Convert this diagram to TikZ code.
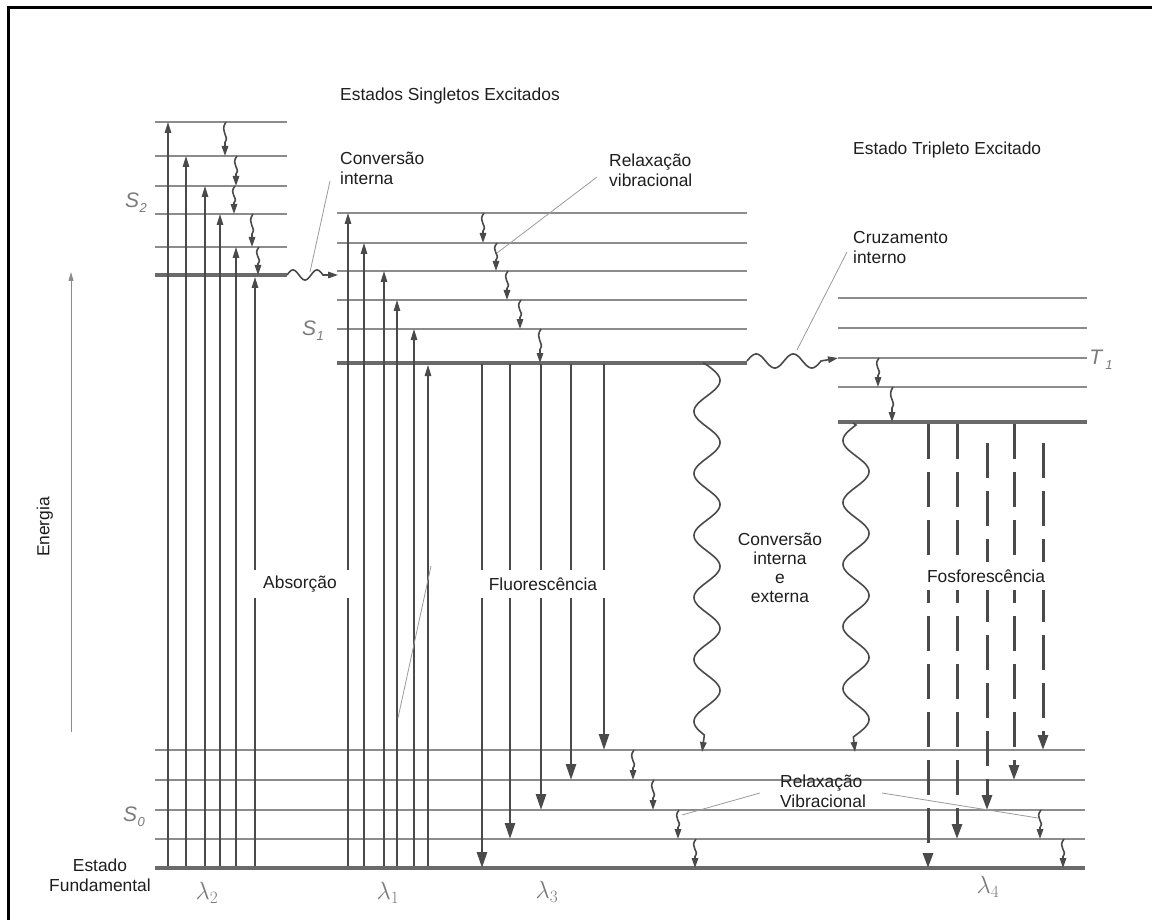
\documentclass[tikz,border=0pt]{standalone}
\usepackage{fontspec}
\setmainfont{Liberation Sans}
\usetikzlibrary{arrows.meta}
\definecolor{lvl}{HTML}{8C8C8C}
\definecolor{thk}{HTML}{6A6A6A}
\definecolor{arr}{HTML}{4A4A4A}
\definecolor{txt}{HTML}{1E1E1E}
\definecolor{lab}{HTML}{7A7A7A}
\definecolor{lead}{HTML}{9A9A9A}
\begin{document}
\begin{tikzpicture}[x=1pt,y=-1pt,
  level/.style={draw=lvl, line width=1.1pt},
  ground/.style={draw=thk, line width=4.5pt},
  absarrow/.style={draw=arr, line width=1.3pt, -{Triangle[length=11pt,width=6.5pt]}},
  fluor/.style={draw=arr, line width=2.6pt, -{Triangle[length=16pt,width=10pt]}},
  phos/.style={draw=arr, line width=3pt, dash pattern=on 35pt off 13pt, -{Triangle[length=15pt,width=10pt]}},
  vib/.style={draw=arr, line width=1.6pt, -{Triangle[length=10pt,width=6.5pt]}},
  wave/.style={draw=arr, line width=1.6pt, -{Triangle[length=10pt,width=6.5pt]}},
  leader/.style={draw=lead, line width=0.8pt},
  lbl/.style={text=txt, font=\fontsize{17.4}{20}\selectfont, inner sep=0pt},
  sym/.style={text=lab, font=\fontsize{21}{24}\selectfont, inner sep=0pt},
  lam/.style={text=lab, font=\fontsize{24}{26}\selectfont, inner sep=0pt},
  wbox/.style={fill=white, minimum height=28pt}
]
\useasboundingbox (0,0) rectangle (1152,920);
% frame
\draw[line width=3pt,black] (1152,8) -- (8,8) -- (8,920);

% ---------- levels ----------
% S2
\foreach \y in {122,156,186,214,247} \draw[level] (155,\y) -- (287,\y);
\draw[ground] (155,275) -- (287,275);
% S1
\foreach \y in {213,243,271,300,329} \draw[level] (337,\y) -- (747,\y);
\draw[ground] (337,363) -- (747,363);
% T1
\foreach \y in {298,328,358,387} \draw[level] (838,\y) -- (1087,\y);
\draw[ground] (838,422) -- (1087,422);
% S0
\foreach \y in {750,780,810,839} \draw[level] (155,\y) -- (1085,\y);
\draw[ground] (155,868) -- (1085,868);

% ---------- absorption ----------
\foreach \x/\y in {168/122,186/156,205/186,220/214,236/247,255/277}
  \draw[absarrow] (\x,866) -- (\x,\y);
\foreach \x/\y in {348/213,364/243,384/271,397/300,414/329,428/365}
  \draw[absarrow] (\x,866) -- (\x,\y);

% ---------- vibrational relaxation (small squiggles) ----------
\foreach \x/\a/\b in {225/122/156,236/156/186,234/186/214,252/214/247,258/247/275,
                      483/213/243,496/243/271,507/271/300,520/300/329,540/329/363,
                      878/358/387,892/387/422,
                      633/750/780,653/780/810,678/810/839,695/839/868,
                      1040/810/839,1063/839/868}
  \draw[vib] (\x+1,\a) .. controls (\x-6,\a+0.3*\b-0.3*\a) and (\x+5,\a+0.4*\b-0.4*\a) .. (\x,\a+0.6*\b-0.6*\a) -- (\x,\b);

% ---------- fluorescence ----------
\foreach \x/\y in {482/868,510/839,541/810,571/780,604/750}
  \draw[fluor] (\x,364) -- (\x,\y);

% ---------- phosphorescence ----------
\draw[phos] (928,424) -- (928,868);
\draw[phos] (957,424) -- (957,839);
\draw[phos] (987,443) -- (987,810);
\draw[phos] (1014,424) -- (1014,780);
\draw[phos] (1043,443) -- (1043,750);

% ---------- internal conversion S2 -> S1 ----------
\draw[wave] (287,275) -- plot[domain=0:36,samples=60,smooth] ({287+\x},{275-5*sin(\x/24*360)}) -- (338,275);
% ---------- intersystem crossing S1 -> T1 ----------
\draw[wave] (747,361) -- plot[domain=0:74,samples=100,smooth] ({747+\x},{361-7*sin(\x/37*360)}) -- (838,358);
% ---------- long waves (internal/external conversion) ----------
\draw[wave] (703,363) -- plot[domain=0:370,samples=300,smooth] ({707+13*sin(\x/62*360)},{365+\x}) -- (702,752);
\draw[wave] (853,423) -- plot[domain=0:312,samples=260,smooth] ({856-13*sin(\x/62*360)},{425+\x}) -- (855,752);

% ---------- energy axis ----------
\coordinate (e0) at (71,732);
\coordinate (e1) at (71,272);
\draw[draw=lvl, line width=1pt, -{Triangle[length=9pt,width=5pt]}] (e0) -- (e1);
\node[lbl, rotate=90] (energia) at (45,527) {Energia};

% ---------- leaders ----------
\coordinate (l1a) at (330,181); \coordinate (l1b) at (310,272);
\coordinate (l2a) at (597,177); \coordinate (l2b) at (497,253);
\coordinate (l3a) at (847,252); \coordinate (l3b) at (797,350);
\coordinate (l4a) at (760,793); \coordinate (l4b) at (682,815);
\coordinate (l5a) at (882,793); \coordinate (l5b) at (1038,818);
\coordinate (l6a) at (398,718); \coordinate (l6b) at (431,566);
\foreach \a/\b in {l1a/l1b,l2a/l2b,l3a/l3b,l4a/l4b,l5a/l5b,l6a/l6b}
  \draw[leader] (\a) -- (\b);

% ---------- labels ----------
\node[lbl, anchor=west] (singl) at (340,96) {Estados Singletos Excitados};
\node[lbl, anchor=west] (trip) at (853,150) {Estado Tripleto Excitado};
\node[lbl, anchor=west, align=left] (convint) at (340,168) {Conversão\\interna};
\node[lbl, anchor=west, align=left] (relax) at (609,170) {Relaxação\\vibracional};
\node[lbl, anchor=west, align=left] (cruz) at (853,248) {Cruzamento\\interno};
\node[lbl, align=center, font=\fontsize{17.4}{19}\selectfont] (convie) at (780,568) {Conversão\\interna\\e\\externa};
\node[lbl, anchor=west, align=left] (relax2) at (780,791) {Relaxação\\Vibracional};
\node[lbl, align=center] (fund) at (100,875) {Estado\\Fundamental};
\node[lbl, wbox, minimum width=100pt] (absor) at (300,584) {Absorção};
\node[lbl, wbox, minimum width=132pt] (fluo) at (543,584) {Fluorescência};
\node[lbl, wbox, minimum width=130pt] (fosfo) at (986,576) {Fosforescência};

\node[sym] (s2) at (136,203) {\itshape S\kern0.5pt\raisebox{-0.45ex}{\fontsize{13}{15}\selectfont 2}};
\node[sym] (s1) at (313,331) {\itshape S\kern0.5pt\raisebox{-0.45ex}{\fontsize{13}{15}\selectfont 1}};
\node[sym] (s0) at (134,817) {\itshape S\kern0.5pt\raisebox{-0.45ex}{\fontsize{13}{15}\selectfont 0}};
\node[sym] (t1) at (1101,360) {\itshape T\kern3pt\raisebox{-0.45ex}{\fontsize{13}{15}\selectfont 1}};

\node[lam] (lam2) at (207,893) {$\lambda_2$};
\node[lam] (lam1) at (388,893) {$\lambda_1$};
\node[lam] (lam3) at (547,892) {$\lambda_3$};
\node[lam] (lam4) at (988,887) {$\lambda_4$};
\end{tikzpicture}
\end{document}
